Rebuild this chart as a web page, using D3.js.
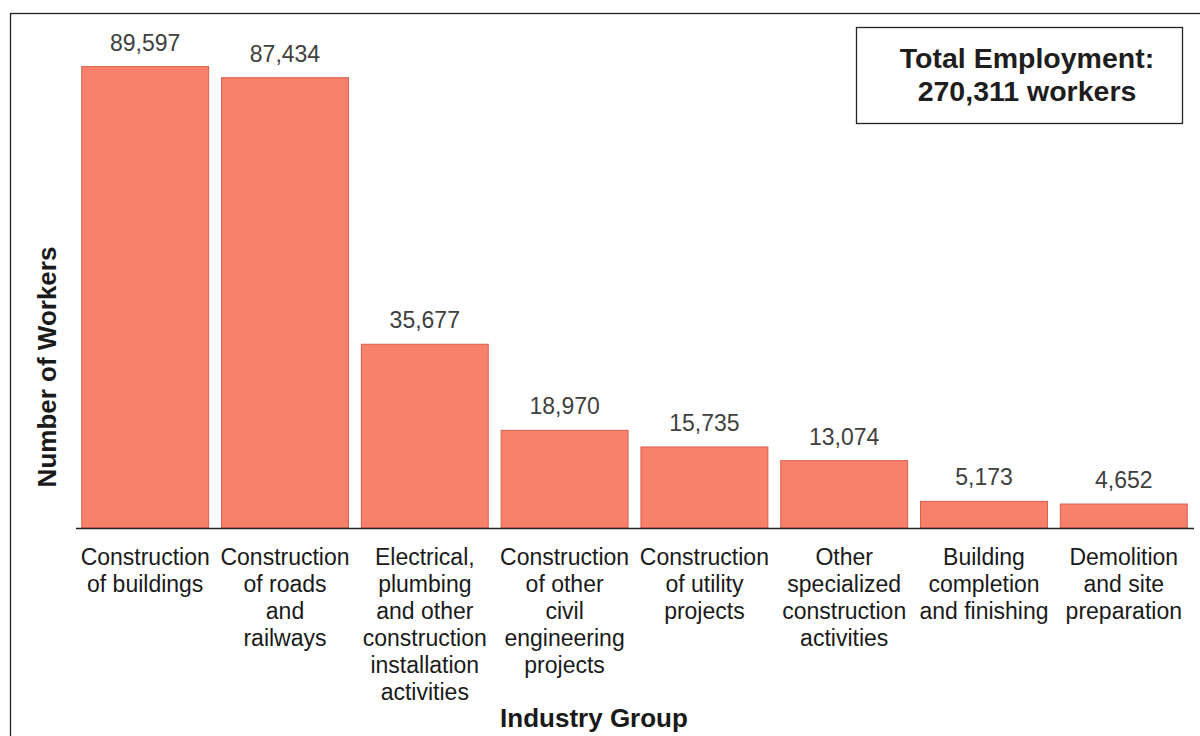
<!DOCTYPE html>
<html>
<head>
<meta charset="utf-8">
<script src="https://cdn.jsdelivr.net/npm/d3@7"></script>
<style>
	body { margin: 0; background: #fff; }
	svg { display: block; font-family: "Liberation Sans", Arial, sans-serif; }
</style>
</head>
<body>
<div id="chart"></div>
<script>
"use strict";

const width = 1200, height = 736;

//  Chart data
const categories = [
	"Construction\nof buildings",
	"Construction\nof roads\nand\nrailways",
	"Electrical,\nplumbing\nand other\nconstruction\ninstallation\nactivities",
	"Construction\nof other\ncivil\nengineering\nprojects",
	"Construction\nof utility\nprojects",
	"Other\nspecialized\nconstruction\nactivities",
	"Building\ncompletion\nand finishing",
	"Demolition\nand site\npreparation"
];
const workers = [89597, 87434, 35677, 18970, 15735, 13074, 5173, 4652];
const totalLines = ["Total Employment:", "270,311 workers"];
const yTitle = "Number of Workers";
const xTitle = "Industry Group";

const data = categories.map((c, i) => ({ category: c, value: workers[i] }));

let svg = d3.select('#chart').append('svg')
	.attr('width', width)
	.attr('height', height);

//  Outer frame (runs past the right and bottom edges)
svg.append('rect')
	.attr('x', 10.5).attr('y', 13.5)
	.attr('width', 1300).attr('height', 800)
	.attr('fill', 'none')
	.attr('stroke', '#222')
	.attr('stroke-width', 1.3);

const x = d3.scaleBand()
	.domain(categories)
	.range([76, 1193])
	.paddingInner(0.092)
	.paddingOuter(0.041);

const y = d3.scaleLinear()
	.domain([0, 100000])
	.range([528, 13]);

//  Bars
svg.selectAll('.bar')
	.data(data)
	.join('rect')
	.classed('bar', true)
	.attr('x', d => x(d.category))
	.attr('y', d => y(d.value))
	.attr('width', x.bandwidth())
	.attr('height', d => y(0) - y(d.value))
	.attr('fill', '#f9806a')
	.attr('stroke', '#d8604c')
	.attr('stroke-width', 1);

//  Value labels
svg.selectAll('.value')
	.data(data)
	.join('text')
	.classed('value', true)
	.attr('x', d => x(d.category) + x.bandwidth() / 2)
	.attr('y', d => y(d.value) - 16)
	.attr('text-anchor', 'middle')
	.attr('font-size', 23)
	.attr('fill', '#404040')
	.text(d => d3.format(',')(d.value));

//  X axis line
const xAxis = svg.append('g')
	.attr('transform', `translate(0, ${y(0)})`)
	.call(d3.axisBottom(x).tickSize(0).tickFormat(''));
xAxis.select('.domain')
	.attr('d', 'M76,0.5H1194')
	.attr('stroke', '#222')
	.attr('stroke-width', 1.6);

//  Category labels, one tspan per line
const labels = svg.selectAll('.cat')
	.data(data)
	.join('text')
	.classed('cat', true)
	.attr('text-anchor', 'middle')
	.attr('font-size', 23)
	.attr('fill', '#1a1a1a');
labels.selectAll('tspan')
	.data(d => d.category.split('\n').map(line => ({ line, cx: x(d.category) + x.bandwidth() / 2 })))
	.join('tspan')
	.attr('x', d => d.cx)
	.attr('y', (d, i) => 565 + i * 27)
	.text(d => d.line);

//  Axis titles
svg.append('text')
	.attr('transform', 'translate(56, 367) rotate(-90)')
	.attr('text-anchor', 'middle')
	.attr('font-size', 26)
	.attr('font-weight', 'bold')
	.attr('fill', '#1a1a1a')
	.text(yTitle);

svg.append('text')
	.attr('x', 594).attr('y', 727)
	.attr('text-anchor', 'middle')
	.attr('font-size', 26)
	.attr('font-weight', 'bold')
	.attr('fill', '#1a1a1a')
	.text(xTitle);

//  Total box
svg.append('rect')
	.attr('x', 856.5).attr('y', 27.5)
	.attr('width', 326).attr('height', 96)
	.attr('fill', '#fff')
	.attr('stroke', '#222')
	.attr('stroke-width', 1.3);

svg.selectAll('.total')
	.data(totalLines)
	.join('text')
	.classed('total', true)
	.attr('x', 1027)
	.attr('y', (d, i) => 68 + i * 32.5)
	.attr('text-anchor', 'middle')
	.attr('font-size', 28.5)
	.attr('font-weight', 'bold')
	.attr('fill', '#1e1e1e')
	.text(d => d);
</script>
</body>
</html>
